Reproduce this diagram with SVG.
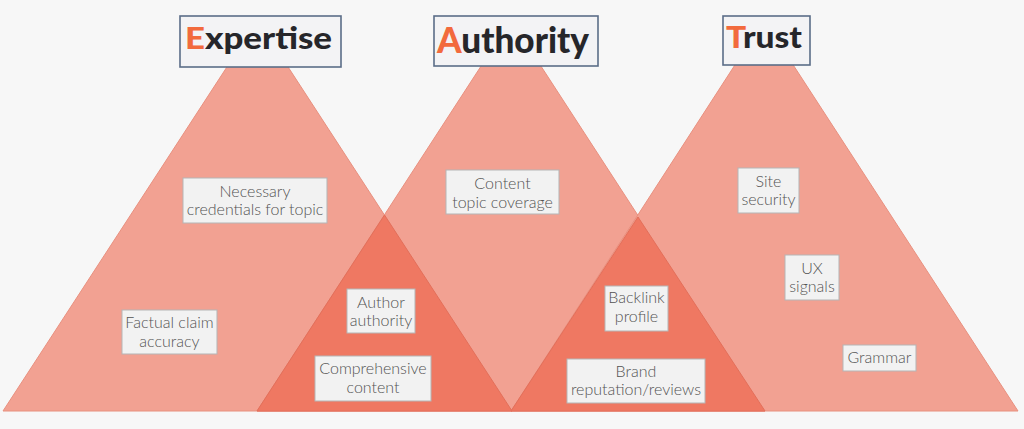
<svg xmlns="http://www.w3.org/2000/svg" width="1024" height="429" viewBox="0 0 1024 429">
<style>
.tri{fill:#F2A192;stroke:#E8907F;stroke-width:1}
.ovl{fill:#EF7862;stroke:#E36F5A;stroke-width:1}
.tbox{fill:#F3F3F5;stroke:#5B6D88;stroke-width:1.6}
.title{font-family:Lato,"Liberation Sans",sans-serif;font-weight:900;fill:#26262A}
.first{fill:#F26A3D}
.lbox{fill:#F2F2F2;stroke:#B5B5B5;stroke-width:1}
.lbl{font-family:Lato,"Liberation Sans",sans-serif;font-size:16px;font-weight:300;fill:#525252;text-anchor:middle}
</style>
<rect x="0" y="0" width="1024" height="429" fill="#F7F7F7"/>
<g id="shapes">
<polygon class="tri" points="257.5,20 3,411 512,411"/>
<polygon class="tri" points="511,20 257,411 765,411"/>
<polygon class="tri" points="764,20 511,411 1018,411"/>
<polygon class="ovl" points="384.5,215 257,411 512,411"/>
<polygon class="ovl" points="638,217 511,411 765,411"/>
</g>
<g id="expertise">
<rect class="tbox" x="180" y="16" width="161" height="51"/>
<text class="title" x="185" y="49" font-size="31" textLength="147" lengthAdjust="spacingAndGlyphs"><tspan class="first">E</tspan>xpertise</text>
</g>
<g id="authority">
<rect class="tbox" x="434" y="16" width="164" height="50"/>
<text class="title" x="437" y="53" font-size="36" textLength="152" lengthAdjust="spacingAndGlyphs"><tspan class="first">A</tspan>uthority</text>
</g>
<g id="trust">
<rect class="tbox" x="723" y="16" width="87" height="49"/>
<text class="title" x="726" y="48" font-size="31" textLength="76" lengthAdjust="spacingAndGlyphs"><tspan class="first">T</tspan>rust</text>
</g>
<g id="necessary-credentials">
<rect class="lbox" x="183" y="178" width="144" height="45"/>
<text class="lbl" x="255" y="197">Necessary</text>
<text class="lbl" x="255" y="215">credentials for topic</text>
</g>
<g id="factual-claim">
<rect class="lbox" x="122" y="310" width="95" height="44"/>
<text class="lbl" x="169.5" y="328">Factual claim</text>
<text class="lbl" x="169.5" y="347">accuracy</text>
</g>
<g id="author-authority">
<rect class="lbox" x="347" y="289" width="68" height="44"/>
<text class="lbl" x="381" y="308">Author</text>
<text class="lbl" x="381" y="326">authority</text>
</g>
<g id="comprehensive-content">
<rect class="lbox" x="315" y="356" width="116" height="45"/>
<text class="lbl" x="373" y="374">Comprehensive</text>
<text class="lbl" x="373" y="393">content</text>
</g>
<g id="content-topic-coverage">
<rect class="lbox" x="446" y="170" width="113" height="44"/>
<text class="lbl" x="502.5" y="189">Content</text>
<text class="lbl" x="502.5" y="208">topic coverage</text>
</g>
<g id="site-security">
<rect class="lbox" x="738" y="168" width="61" height="45"/>
<text class="lbl" x="768.5" y="187">Site</text>
<text class="lbl" x="768.5" y="205">security</text>
</g>
<g id="ux-signals">
<rect class="lbox" x="785" y="255" width="54" height="45"/>
<text class="lbl" x="812" y="274">UX</text>
<text class="lbl" x="812" y="292">signals</text>
</g>
<g id="backlink-profile">
<rect class="lbox" x="605" y="286" width="63" height="45"/>
<text class="lbl" x="636.5" y="303">Backlink</text>
<text class="lbl" x="636.5" y="322">profile</text>
</g>
<g id="brand-reputation">
<rect class="lbox" x="567" y="359" width="138" height="44"/>
<text class="lbl" x="636" y="377">Brand</text>
<text class="lbl" x="636" y="395">reputation/reviews</text>
</g>
<g id="grammar">
<rect class="lbox" x="843" y="345" width="73" height="26"/>
<text class="lbl" x="879.5" y="363">Grammar</text>
</g>
</svg>
